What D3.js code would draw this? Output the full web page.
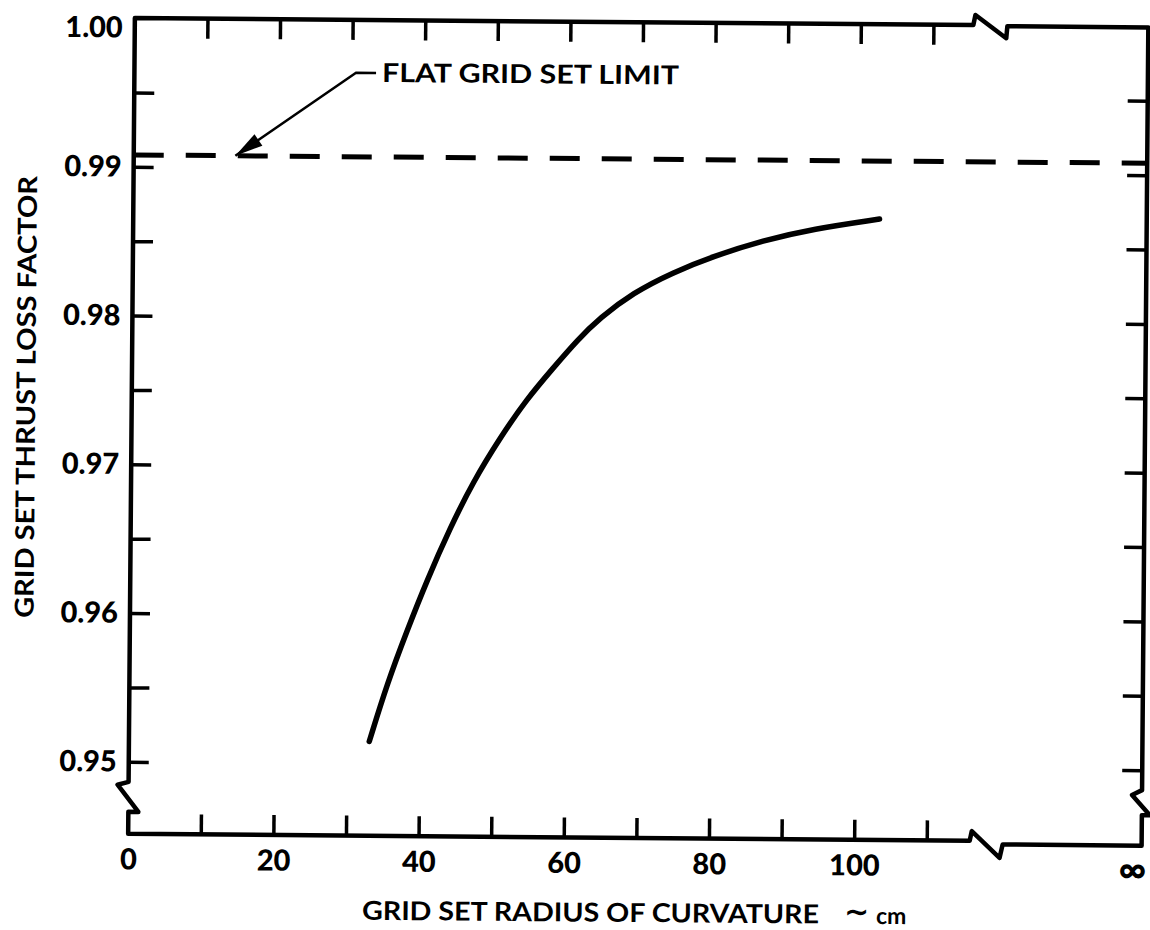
<!DOCTYPE html>
<html>
<head>
<meta charset="utf-8">
<script src="https://cdn.jsdelivr.net/npm/d3@7/dist/d3.min.js"></script>
<style>
  body { margin: 0; background: #fff; }
  text { font-family: "Lato", "DejaVu Sans", sans-serif; fill: #000; }
</style>
</head>
<body>
<svg id="chart" width="1150" height="930"></svg>
<script>
// curve
var radiusCm = [33.1, 35.5, 38.2, 40.9, 44.0, 47.1, 50.8, 54.4, 58.0, 61.3, 64.4, 68.9, 74.4, 79.9, 86.8, 93.6, 102.8];
var thrustLossFactor = [0.9515, 0.9554, 0.9590, 0.9624, 0.9659, 0.9690, 0.9720, 0.9746, 0.9767, 0.9786, 0.9801, 0.9818, 0.9832, 0.9843, 0.9854, 0.9862, 0.9869];

var flatGridLimit = 0.9908;
var flatLimitArrowAt = 14;      // radius where the annotation arrow touches the dashed line
var xBreakAt = 115.5;           // axis break before "infinity"

var xTickValues = [10, 20, 30, 40, 50, 60, 70, 80, 90, 100, 110];
var xLabelValues = [0, 20, 40, 60, 80, 100];
var yTickValues = [0.95, 0.955, 0.96, 0.965, 0.97, 0.975, 0.98, 0.985, 0.99, 0.995];
var yLabelValues = [0.95, 0.96, 0.97, 0.98, 0.99, 1.00];

var xAxisTitle = "GRID SET RADIUS OF CURVATURE";
var xAxisUnit = "cm";
var yAxisTitle = "GRID SET THRUST LOSS FACTOR";
var annotationText = "FLAT GRID SET LIMIT";
var infinityLabel = "\u221E";

// layout
var xLeft = 131.5, xRight = 1145;
var yBottomLeft = 838, yBottomRight = 841.5;
var tickLen = 20;

var x = d3.scaleLinear().domain([0, 110]).range([xLeft, xLeft + 110 * 7.26]);
var y = d3.scaleLinear().domain([0.95, 1.00]).range([766, 22.25]);
var yTop = y(1.00);

var svg = d3.select("#chart");
// the original page was scanned slightly rotated
var g = svg.append("g").attr("transform", "rotate(0.47 640 430)");

// frame with axis breaks
var xb = x(xBreakAt);
var frame = [
  [xLeft, yTop], [xb, yTop], [xb + 2, yTop - 10], [xb + 33, yTop + 13], [xb + 34, yTop + 1], [xRight, yTop + 1],
  [xRight, 786], [xRight - 10, 791], [xRight + 8, 811], [xRight, 811], [xRight, yBottomRight],
  [xb + 36, yBottomRight], [xb + 33, 855], [xb + 5, 828.5], [xb + 3, yBottomLeft], [xLeft, yBottomLeft],
  [xLeft, 816], [xLeft + 10, 816], [xLeft - 11, 789], [xLeft, 786], [xLeft, yTop]
];
g.append("path")
  .attr("d", d3.line()(frame) + "Z")
  .attr("fill", "none")
  .attr("stroke", "#000")
  .attr("stroke-width", 4.5)
  .attr("stroke-linejoin", "round");

// inward ticks on all four sides
function tickOnly(axis, tx, ty) {
  var a = g.append("g").attr("transform", "translate(" + tx + "," + ty + ")").call(axis);
  a.select(".domain").remove();
  a.selectAll(".tick line").attr("stroke", "#000").attr("stroke-width", 3.5);
  a.selectAll(".tick text").remove();
  return a;
}
tickOnly(d3.axisRight(y).tickValues(yTickValues).tickSize(tickLen), xLeft, 0);
tickOnly(d3.axisLeft(y).tickValues(yTickValues).tickSize(tickLen), xRight, 0);
tickOnly(d3.axisBottom(x).tickValues(xTickValues).tickSize(tickLen), 0, yTop);
tickOnly(d3.axisTop(x).tickValues(xTickValues).tickSize(tickLen), 0, yBottomLeft);

// tick labels
var yLab = g.append("g").attr("transform", "translate(" + xLeft + ",0)")
  .call(d3.axisLeft(y).tickValues(yLabelValues).tickSize(0).tickPadding(12).tickFormat(d3.format(".2f")));
yLab.select(".domain").remove();
yLab.selectAll("text").style("font-size", "29px").style("font-weight", 900).attr("fill", "#000")
  .attr("dy", function (d) { return d === 1.00 ? "0.65em" : "0.32em"; });

var xLab = g.append("g").attr("transform", "translate(0," + yBottomLeft + ")")
  .call(d3.axisBottom(x).tickValues(xLabelValues).tickSize(0).tickPadding(15).tickFormat(d3.format("d")));
xLab.select(".domain").remove();
xLab.selectAll("text").style("font-size", "29px").style("font-weight", 900).attr("fill", "#000");

g.append("text")
  .attr("x", xRight - 9).attr("y", yBottomRight + 22)
  .attr("text-anchor", "middle").attr("dominant-baseline", "central")
  .style("font-size", "38px").style("font-weight", 900)
  .text(infinityLabel);

// flat grid limit
g.append("line")
  .attr("x1", xLeft).attr("x2", xRight)
  .attr("y1", y(flatGridLimit)).attr("y2", y(flatGridLimit))
  .attr("stroke", "#000").attr("stroke-width", 5)
  .attr("stroke-dasharray", "30 22");

// curve
var line = d3.line()
  .x(function (d, i) { return x(radiusCm[i]); })
  .y(function (d) { return y(d); })
  .curve(d3.curveBasis);
g.append("path")
  .datum(thrustLossFactor)
  .attr("d", line)
  .attr("fill", "none")
  .attr("stroke", "#000")
  .attr("stroke-width", 5.5)
  .attr("stroke-linecap", "round");

// annotation arrow
var tipX = x(flatLimitArrowAt), tipY = y(flatGridLimit);
var elbowX = tipX + 120, elbowY = tipY - 84;
g.append("path")
  .attr("d", "M" + (elbowX + 20) + "," + elbowY + "H" + elbowX + "L" + tipX + "," + tipY)
  .attr("fill", "none").attr("stroke", "#000").attr("stroke-width", 2.5);
var ang = Math.atan2(elbowY - tipY, elbowX - tipX);
var headLen = 28, headW = 7;
var bx = tipX + headLen * Math.cos(ang), by = tipY + headLen * Math.sin(ang);
g.append("path")
  .attr("d", "M" + tipX + "," + tipY +
    "L" + (bx - headW * Math.sin(ang)) + "," + (by + headW * Math.cos(ang)) +
    "L" + (bx + headW * Math.sin(ang)) + "," + (by - headW * Math.cos(ang)) + "Z")
  .attr("fill", "#000");
g.append("text")
  .attr("x", elbowX + 26).attr("y", elbowY + 9)
  .attr("textLength", 297).attr("lengthAdjust", "spacingAndGlyphs")
  .style("font-size", "26px").style("font-weight", 700)
  .text(annotationText);

// axis titles
g.append("text")
  .attr("transform", "translate(25,402) rotate(-90)")
  .attr("text-anchor", "middle").attr("dominant-baseline", "central")
  .attr("textLength", 442).attr("lengthAdjust", "spacingAndGlyphs")
  .style("font-size", "26px").style("font-weight", 700)
  .text(yAxisTitle);

var xt = g.append("text").attr("y", 922).style("font-weight", 700);
xt.append("tspan").attr("x", 366)
  .attr("textLength", 457).attr("lengthAdjust", "spacingAndGlyphs")
  .style("font-size", "26px").text(xAxisTitle);
xt.append("tspan").attr("x", 848).attr("dy", -2).style("font-size", "30px").style("font-family", "DejaVu Sans").text("\u223C");
xt.append("tspan").attr("x", 880).attr("dy", 2).style("font-size", "23px").text(xAxisUnit);
</script>
</body>
</html>
